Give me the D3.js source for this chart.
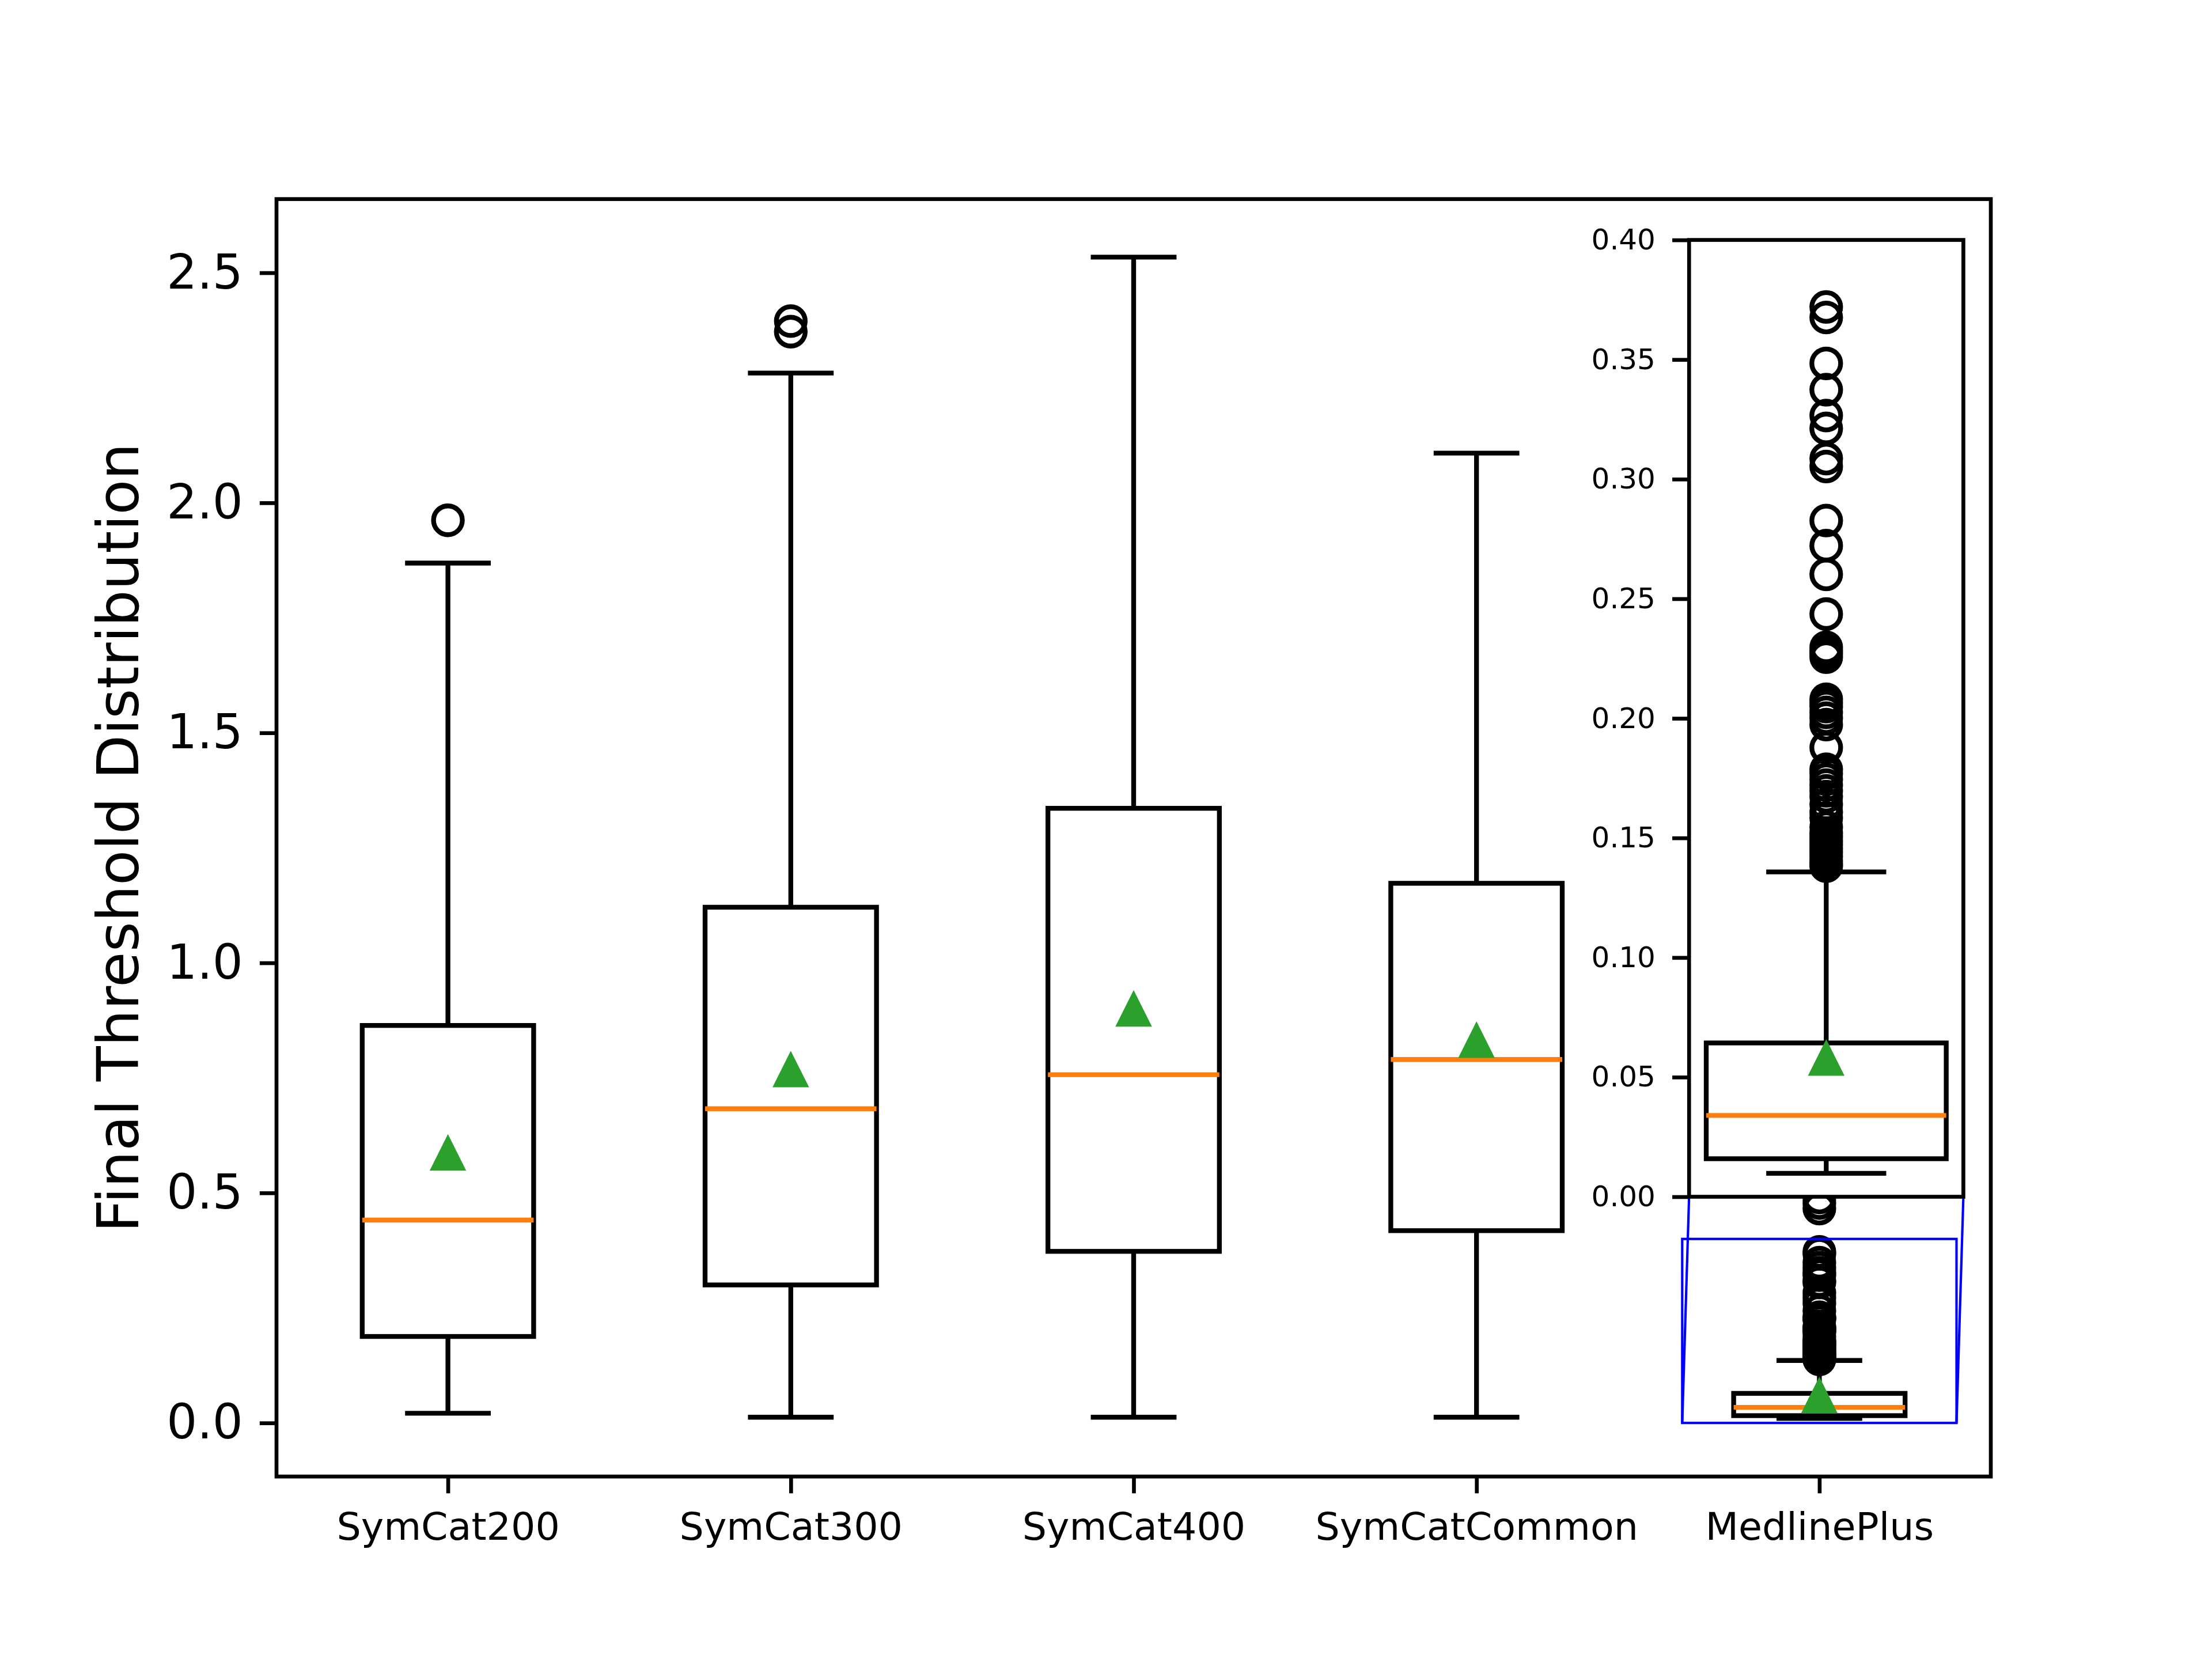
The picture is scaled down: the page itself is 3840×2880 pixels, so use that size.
<!DOCTYPE html>
<html>
<head>
<meta charset="utf-8">
<script src="https://cdn.jsdelivr.net/npm/d3@7"></script>
<style>
  body { margin: 0; background: #fff; }
  svg { display: block; }
</style>
</head>
<body>
<div class="chart"></div>
<script>
// data
const categories = ["SymCat200", "SymCat300", "SymCat400", "SymCatCommon", "MedlinePlus"];
const whiskerLow = [0.021, 0.0125, 0.0125, 0.0125, 0.0098];
const q1 = [0.188, 0.300, 0.373, 0.418, 0.0159];
const medians = [0.441, 0.683, 0.757, 0.790, 0.0340];
const q3 = [0.864, 1.121, 1.336, 1.173, 0.0643];
const whiskerHigh = [1.869, 2.282, 2.534, 2.108, 0.1358];
const means = [0.585, 0.766, 0.898, 0.830, 0.0576];
const fliers = [
    [1.962],
    [2.372, 2.395],
    [],
    [],
    [0.1382, 0.1391, 0.1405, 0.1423, 0.1440, 0.1456, 0.1472, 0.1488, 0.1505, 0.1520,
     0.1545, 0.1584, 0.1608, 0.1640, 0.1673, 0.1697, 0.1721, 0.1745, 0.1769, 0.1787,
     0.1878, 0.1974, 0.2001, 0.2025, 0.2049, 0.2065, 0.2080, 0.2256, 0.2270, 0.2282,
     0.2297, 0.2436, 0.2602, 0.2722, 0.2827, 0.3053, 0.3086, 0.3212, 0.3266, 0.3374,
     0.3484, 0.3676, 0.3720, 0.466, 0.478, 0.490]
];
const mainTicks = [0, 0.5, 1.0, 1.5, 2.0, 2.5];
const insetTicks = [0, 0.05, 0.10, 0.15, 0.20, 0.25, 0.30, 0.35, 0.40];
const insetX = [4.6, 5.4];
const insetY = [0, 0.4];

const stats = categories.map((c, i) => ({
    pos: i + 1, name: c,
    lo: whiskerLow[i], q1: q1[i], med: medians[i], q3: q3[i], hi: whiskerHigh[i],
    mean: means[i], fliers: fliers[i]
}));

// figure
const width = 3840, height = 2880;
const pt = 600 / 72;
const margin = { left: 480, right: 3456, top: 345.6, bottom: 2563.2 };
const font = "DejaVu Sans";

const svg = d3.select(".chart").append("svg")
    .attr("width", width).attr("height", height);
svg.append("rect").attr("width", width).attr("height", height).attr("fill", "#fff");

// main scales
const allVals = stats.flatMap(d => [d.lo, d.hi, ...d.fliers]);
const vmin = d3.min(allVals), vmax = d3.max(allVals);
const pad = (vmax - vmin) * 0.05;
const x = d3.scaleLinear().domain([0.5, 5.5]).range([margin.left, margin.right]);
const y = d3.scaleLinear().domain([vmin - pad, vmax + pad]).range([margin.bottom, margin.top]);

// inset frame (fractions of the main axes)
const ax = margin.right - margin.left, ay = margin.bottom - margin.top;
const ins = {
    left: margin.left + 0.824 * ax,
    right: margin.left + (0.824 + 0.16) * ax,
    bottom: margin.bottom - 0.219 * ay,
    top: margin.bottom - (0.219 + 0.749) * ay
};
const xi = d3.scaleLinear().domain(insetX).range([ins.left, ins.right]);
const yi = d3.scaleLinear().domain(insetY).range([ins.bottom, ins.top]);

const defs = svg.append("defs");
defs.append("clipPath").attr("id", "clipMain").append("rect")
    .attr("x", margin.left).attr("y", margin.top).attr("width", ax).attr("height", ay);
defs.append("clipPath").attr("id", "clipInset").append("rect")
    .attr("x", ins.left).attr("y", ins.top)
    .attr("width", ins.right - ins.left).attr("height", ins.bottom - ins.top);

// draw one set of boxplots
function drawBoxes(g, xs, ys, boxW) {
    const lw = 1 * pt;
    const grp = g.selectAll("g.box").data(stats).join("g").attr("class", "box");
    // whiskers
    grp.append("line")
        .attr("x1", d => xs(d.pos)).attr("x2", d => xs(d.pos))
        .attr("y1", d => ys(d.q1)).attr("y2", d => ys(d.lo))
        .attr("stroke", "#000").attr("stroke-width", lw);
    grp.append("line")
        .attr("x1", d => xs(d.pos)).attr("x2", d => xs(d.pos))
        .attr("y1", d => ys(d.q3)).attr("y2", d => ys(d.hi))
        .attr("stroke", "#000").attr("stroke-width", lw);
    // caps
    ["lo", "hi"].forEach(k => {
        grp.append("line")
            .attr("x1", d => xs(d.pos - boxW / 4)).attr("x2", d => xs(d.pos + boxW / 4))
            .attr("y1", d => ys(d[k])).attr("y2", d => ys(d[k]))
            .attr("stroke", "#000").attr("stroke-width", lw);
    });
    // box
    grp.append("rect")
        .attr("x", d => xs(d.pos - boxW / 2))
        .attr("width", d => xs(d.pos + boxW / 2) - xs(d.pos - boxW / 2))
        .attr("y", d => ys(d.q3))
        .attr("height", d => ys(d.q1) - ys(d.q3))
        .attr("fill", "none").attr("stroke", "#000").attr("stroke-width", lw)
        .attr("stroke-linejoin", "miter");
    // median
    grp.append("line")
        .attr("x1", d => xs(d.pos - boxW / 2)).attr("x2", d => xs(d.pos + boxW / 2))
        .attr("y1", d => ys(d.med)).attr("y2", d => ys(d.med))
        .attr("stroke", "#ff7f0e").attr("stroke-width", lw);
    // fliers
    grp.selectAll("circle").data(d => d.fliers.map(v => ({ pos: d.pos, v })))
        .join("circle")
        .attr("cx", d => xs(d.pos)).attr("cy", d => ys(d.v))
        .attr("r", 3 * pt)
        .attr("fill", "none").attr("stroke", "#000").attr("stroke-width", lw);
    // means
    const s = 3 * pt;
    grp.append("path")
        .attr("d", `M0,${-s}L${-s},${s}L${s},${s}Z`)
        .attr("transform", d => `translate(${xs(d.pos)},${ys(d.mean)})`)
        .attr("fill", "#2ca02c").attr("stroke", "#2ca02c").attr("stroke-width", lw)
        .attr("stroke-linejoin", "miter");
}

// main plot
const mainG = svg.append("g").attr("clip-path", "url(#clipMain)");
drawBoxes(mainG, x, y, 0.5);

// inset indicator
const blue = "#0000ff";
const ind = svg.append("g").attr("fill", "none").attr("stroke", blue).attr("stroke-width", 0.5 * pt);
ind.append("rect")
    .attr("x", x(insetX[0])).attr("y", y(insetY[1]))
    .attr("width", x(insetX[1]) - x(insetX[0])).attr("height", y(insetY[0]) - y(insetY[1]));
ind.append("line")
    .attr("x1", ins.left).attr("y1", ins.bottom)
    .attr("x2", x(insetX[0])).attr("y2", y(insetY[0]));
ind.append("line")
    .attr("x1", ins.right).attr("y1", ins.bottom)
    .attr("x2", x(insetX[1])).attr("y2", y(insetY[0]));

// main axes
const yAxis = svg.append("g")
    .attr("transform", `translate(${margin.left},0)`)
    .call(d3.axisLeft(y).tickValues(mainTicks).tickFormat(d3.format(".1f"))
        .tickSize(3.5 * pt).tickSizeOuter(0).tickPadding(3.5 * pt));
const xAxis = svg.append("g")
    .attr("transform", `translate(0,${margin.bottom})`)
    .call(d3.axisBottom(x).tickValues(stats.map(d => d.pos)).tickFormat(i => categories[i - 1])
        .tickSize(3.5 * pt).tickSizeOuter(0).tickPadding(33));
[yAxis, xAxis].forEach(a => {
    a.select(".domain").remove();
    a.selectAll(".tick line").attr("stroke-width", 0.8 * pt).attr("stroke", "#000");
    a.selectAll(".tick text").attr("fill", "#000");
    a.attr("font-family", font);
});
yAxis.attr("font-size", 10 * pt);
xAxis.attr("font-size", 8 * pt);

svg.append("rect")
    .attr("x", margin.left).attr("y", margin.top).attr("width", ax).attr("height", ay)
    .attr("fill", "none").attr("stroke", "#000").attr("stroke-width", 0.8 * pt);

svg.append("text")
    .attr("transform", `translate(240,${(margin.top + margin.bottom) / 2}) rotate(-90)`)
    .attr("text-anchor", "middle")
    .attr("font-family", font).attr("font-size", 12 * pt)
    .text("Final Threshold Distribution");

// inset plot
svg.append("rect")
    .attr("x", ins.left).attr("y", ins.top)
    .attr("width", ins.right - ins.left).attr("height", ins.bottom - ins.top)
    .attr("fill", "#fff");
const insetG = svg.append("g").attr("clip-path", "url(#clipInset)");
drawBoxes(insetG, xi, yi, 0.7);

const yiAxis = svg.append("g")
    .attr("transform", `translate(${ins.left},0)`)
    .call(d3.axisLeft(yi).tickValues(insetTicks).tickFormat(d3.format(".2f"))
        .tickSize(3.5 * pt).tickSizeOuter(0).tickPadding(3.5 * pt));
yiAxis.select(".domain").remove();
yiAxis.selectAll(".tick line").attr("stroke-width", 0.8 * pt).attr("stroke", "#000");
yiAxis.selectAll(".tick text").attr("fill", "#000");
yiAxis.attr("font-family", font).attr("font-size", 6 * pt);

svg.append("rect")
    .attr("x", ins.left).attr("y", ins.top)
    .attr("width", ins.right - ins.left).attr("height", ins.bottom - ins.top)
    .attr("fill", "none").attr("stroke", "#000").attr("stroke-width", 0.8 * pt);
</script>
</body>
</html>
